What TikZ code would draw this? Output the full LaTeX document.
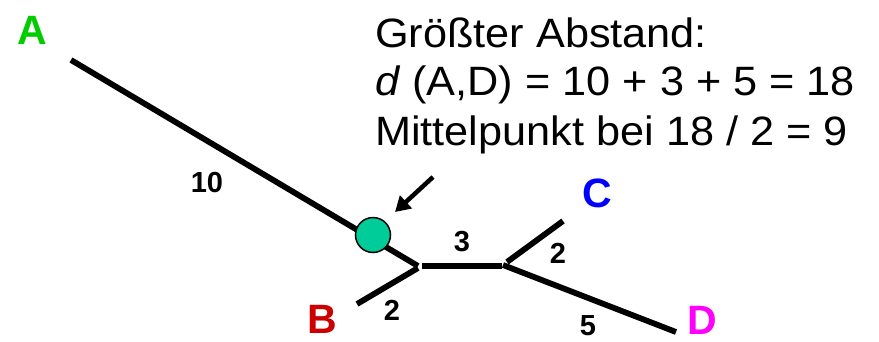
\documentclass[tikz,border=0pt]{standalone}
\usepackage{fontspec}
\setmainfont{Liberation Sans}
\newfontfamily\infofont{Liberation Sans}[FakeStretch=1.055]
\usetikzlibrary{arrows.meta}
\definecolor{cA}{RGB}{0,204,0}
\definecolor{cB}{RGB}{204,0,0}
\definecolor{cC}{RGB}{0,0,255}
\definecolor{cD}{RGB}{255,0,255}
\definecolor{mid}{RGB}{0,204,153}
\tikzset{
  branch/.style={line width=5.8pt},
  leaf/.style={inner sep=0pt, font=\fontsize{41}{41}\selectfont\bfseries},
  weight/.style={inner sep=0pt, font=\fontsize{29}{29}\selectfont\bfseries},
  info/.style={inner sep=0pt, anchor=base west, font=\infofont\fontsize{41}{41}\selectfont},
}
\begin{document}
\begin{tikzpicture}[x=1pt,y=-1pt]
\useasboundingbox (0,0) rectangle (879,341);
% coordinates
\coordinate (a) at (71,60);
\coordinate (j1) at (418,266);
\coordinate (b) at (357,304);
\coordinate (j1b) at (418,268);
\coordinate (h1) at (422,266);
\coordinate (h2) at (502,266);
\coordinate (c0) at (507,262);
\coordinate (c) at (563,221);
\coordinate (d0) at (503,265);
\coordinate (d) at (676,332);
\coordinate (ar0) at (433,177);
\coordinate (ar1) at (395,212);
% branches
\draw[branch] (a) -- (j1);
\draw[branch] (b) -- (j1b);
\draw[branch] (h1) -- (h2);
\draw[branch] (c0) -- (c);
\draw[branch] (d0) -- (d);
% midpoint
\node[circle, draw=black, line width=1.5pt, fill=mid, minimum size=35pt, inner sep=0pt] (m) at (373,235) {};
% arrow
\draw[line width=4.5pt, -{Triangle[length=15pt,width=17pt]}] (ar0) -- (ar1);
% leaf labels
\node[leaf, text=cA] (lA) at (32,30) {A};
\node[leaf, text=cB] (lB) at (322,319) {B};
\node[leaf, text=cC] (lC) at (597,193) {C};
\node[leaf, text=cD] (lD) at (702,320) {D};
% weights
\node[weight] (w10) at (207,183) {10};
\node[weight] (w2b) at (392,310) {2};
\node[weight] (w3) at (462,242) {3};
\node[weight] (w2c) at (558,253) {2};
\node[weight] (w5) at (588,326) {5};
% info text
\node[info] (t1) at (375,47) {Größter Abstand:};
\node[info] (t2) at (375,95) {\textit{d} (A,D) = 10 + 3 + 5 = 18};
\node[info] (t3) at (375,145) {Mittelpunkt bei 18 / 2 = 9};
\end{tikzpicture}
\end{document}
